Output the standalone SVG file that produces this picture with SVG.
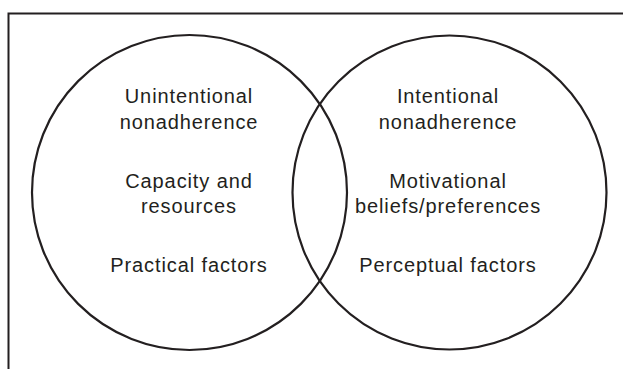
<svg xmlns="http://www.w3.org/2000/svg" width="623" height="369" viewBox="0 0 623 369">
<style>
.c{fill:none;stroke:#231f20;stroke-width:2.2}
.b{fill:none;stroke:#231f20;stroke-width:2}
.t{font-family:"Liberation Sans",Arial,sans-serif;font-size:20px;letter-spacing:0.9px;fill:#231f20;text-anchor:middle}
</style>
<rect width="623" height="369" fill="#fff"/>
<path class="b" d="M8.5,369 V13.5 H623"/>
<g id="left">
<circle class="c" cx="189.5" cy="192.5" r="157.5"/>
<text class="t" x="189" y="103">Unintentional</text>
<text class="t" x="189" y="129">nonadherence</text>
<text class="t" x="189" y="188">Capacity and</text>
<text class="t" x="189" y="213">resources</text>
<text class="t" x="189" y="272">Practical factors</text>
</g>
<g id="right">
<circle class="c" cx="449.5" cy="192.5" r="157"/>
<text class="t" x="448" y="103">Intentional</text>
<text class="t" x="448" y="129">nonadherence</text>
<text class="t" x="448" y="188">Motivational</text>
<text class="t" x="448" y="213">beliefs/preferences</text>
<text class="t" x="448" y="272">Perceptual factors</text>
</g>
<g id="connectors"/>
</svg>
